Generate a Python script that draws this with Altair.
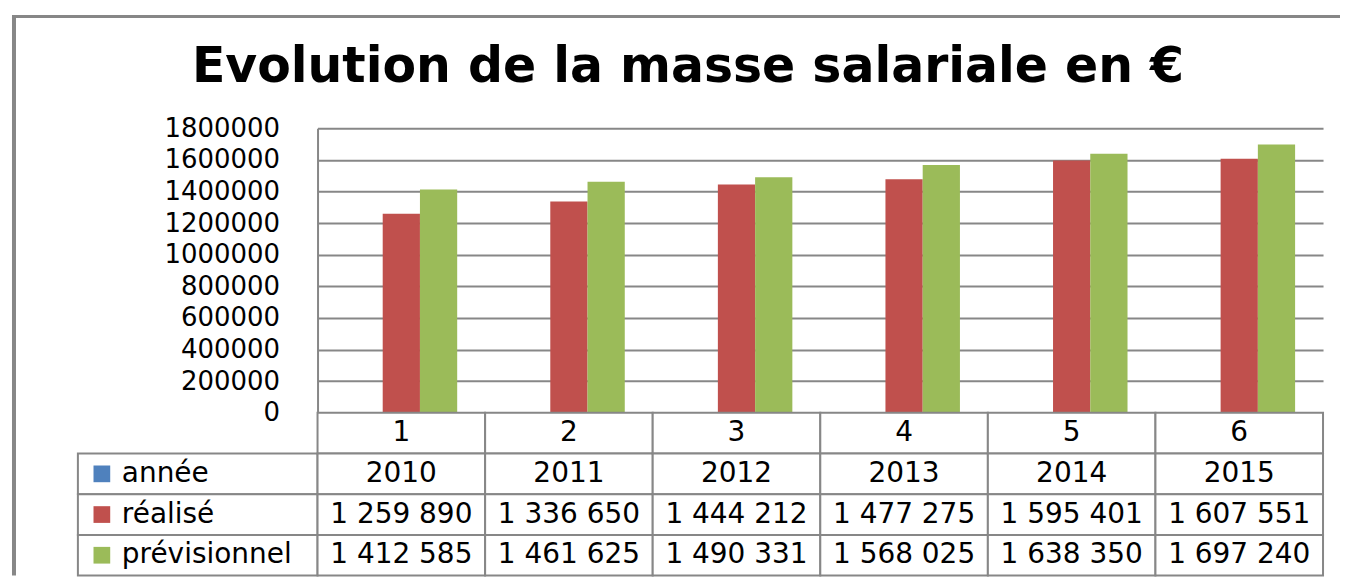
import altair as alt
import pandas as pd

# ---- data ----
categories = ["1", "2", "3", "4", "5", "6"]
annee = [2010, 2011, 2012, 2013, 2014, 2015]
realise = [1259890, 1336650, 1444212, 1477275, 1595401, 1607551]
previsionnel = [1412585, 1461625, 1490331, 1568025, 1638350, 1697240]
series_names = ["année", "réalisé", "prévisionnel"]
series_colors = ["#4F81BD", "#C0504D", "#9BBB59"]
y_ticks = [0, 200000, 400000, 600000, 800000, 1000000, 1200000, 1400000, 1600000, 1800000]
title_text = "Evolution de la masse salariale en €"
table_rows = ["hdr", "année", "réalisé", "prévisionnel"]

GRID = "#878787"
FONT = "DejaVu Sans"

# long table for bars
series_values = [annee, realise, previsionnel]
bar_rows = []
for i, c in enumerate(categories):
    for s, vals in zip(series_names, series_values):
        bar_rows.append({"cat": c, "series": s, "value": vals[i]})
bars_df = pd.DataFrame(bar_rows)

# data table cells
cell_rows = []
for i, c in enumerate(categories):
    cell_rows.append({"cat": c, "row": "hdr", "value": None})
    for s, vals in zip(series_names, series_values):
        cell_rows.append({"cat": c, "row": s, "value": vals[i]})
cells_df = pd.DataFrame(cell_rows)

label_df = pd.DataFrame({"row": series_names, "series": series_names})

color_scale = alt.Scale(domain=series_names, range=series_colors)
row_scale = alt.Scale(domain=table_rows, paddingInner=0, paddingOuter=0)
cat_scale = alt.Scale(domain=categories, paddingInner=0, paddingOuter=0)

PLOT_W = 1007
PLOT_H = 285
LABEL_W = 240
TABLE_H = 163

# ---- top-left cell: empty, carries the chart-area frame ----
frame_df = pd.DataFrame({"a": [0]})
frame_left = alt.Chart(frame_df).mark_rule(color=GRID, strokeWidth=4).encode(
    x=alt.value(-64), y=alt.value(-112), y2=alt.value(PLOT_H + TABLE_H)
)
frame_top = alt.Chart(frame_df).mark_rule(color=GRID, strokeWidth=3).encode(
    y=alt.value(-112), x=alt.value(-66), x2=alt.value(1264)
)
spacer = alt.layer(frame_left, frame_top).properties(width=LABEL_W, height=PLOT_H)

# ---- bars ----
bars = alt.Chart(bars_df).mark_bar().encode(
    x=alt.X("cat:N", scale=cat_scale, axis=None),
    xOffset=alt.XOffset("series:N", sort=series_names,
                        scale=alt.Scale(domain=series_names, paddingInner=0, paddingOuter=0.75)),
    y=alt.Y("value:Q",
            scale=alt.Scale(domain=[0, 1800000], nice=False),
            axis=alt.Axis(values=y_ticks, format="d", title=None, grid=True,
                          gridColor=GRID, gridWidth=2, domain=True, domainColor=GRID,
                          domainWidth=2, ticks=False, labelPadding=38, labelFont=FONT,
                          labelFontSize=26, labelColor="black")),
    color=alt.Color("series:N", scale=color_scale, legend=None),
).properties(width=PLOT_W, height=PLOT_H)

# ---- data-table label column ----
label_boxes = alt.Chart(label_df).mark_rect(fill="white", stroke=GRID, strokeWidth=2).encode(
    y=alt.Y("row:N", scale=row_scale, axis=None),
    x=alt.value(0), x2=alt.value(LABEL_W),
)
label_keys = alt.Chart(label_df).mark_square(size=280, opacity=1).encode(
    y=alt.Y("row:N", scale=row_scale, axis=None),
    x=alt.value(24),
    color=alt.Color("series:N", scale=color_scale, legend=None),
)
label_text = alt.Chart(label_df).mark_text(
    align="left", baseline="middle", font=FONT, fontSize=28, color="black"
).encode(
    y=alt.Y("row:N", scale=row_scale, axis=None),
    x=alt.value(44),
    text="series:N",
)
labels = alt.layer(label_boxes, label_keys, label_text).properties(width=LABEL_W, height=TABLE_H)

# ---- data-table values ----
cell_boxes = alt.Chart(cells_df).mark_rect(fill="white", stroke=GRID, strokeWidth=2).encode(
    x=alt.X("cat:N", scale=cat_scale, axis=None),
    y=alt.Y("row:N", scale=row_scale, axis=None),
)
cell_text = alt.Chart(cells_df).transform_calculate(
    label="datum.row == 'hdr' ? datum.cat : (datum.row == 'année' ? format(datum.value, 'd') : format(datum.value, ',d'))"
).mark_text(baseline="middle", font=FONT, fontSize=28, color="black").encode(
    x=alt.X("cat:N", scale=cat_scale, axis=None),
    y=alt.Y("row:N", scale=row_scale, axis=None),
    text="label:N",
)
table = alt.layer(cell_boxes, cell_text).properties(width=PLOT_W, height=TABLE_H)

chart = alt.concat(
    spacer, bars, labels, table, columns=2, spacing=0, bounds="flush"
).properties(
    title=alt.TitleParams(title_text, font="DejaVu Sans", fontSize=49, fontWeight="bold",
                          anchor="middle", color="black", offset=-78, dx=12),
    padding={"left": 2, "top": 6, "right": 0, "bottom": 0},
).configure(
    locale={"number": {"decimal": ",", "thousands": " ", "grouping": [3], "currency": ["", " €"]}},
    view=alt.ViewConfig(stroke="transparent", strokeWidth=0),
)

chart.save("out.html", embed_options={"renderer": "svg", "actions": False})
